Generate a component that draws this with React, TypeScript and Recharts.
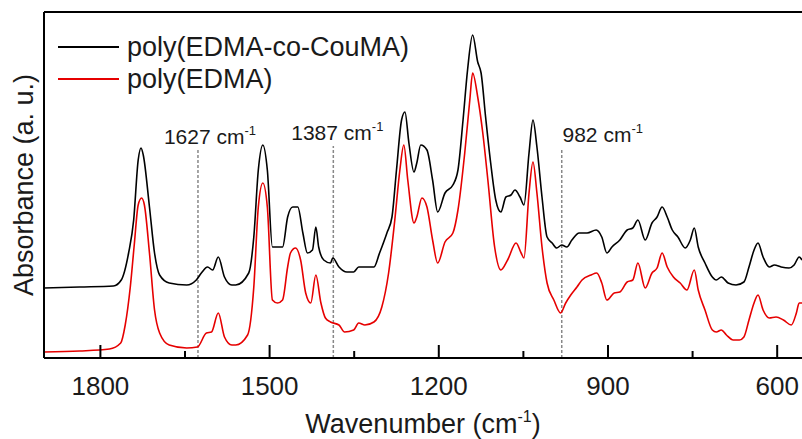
import { LineChart, Line, XAxis, YAxis, ReferenceLine, Legend } from 'recharts';

const FONT = '"Liberation Sans", Arial, sans-serif';
const TEXT = '#1a1a1a';

// wavenumber (cm-1) and absorbance (a.u., offset)
const wnBlack = [
  1900, 1837, 1777, 1763, 1750, 1741, 1733, 1728, 1724, 1713, 1704, 1695, 1678, 1647, 1630, 1621, 1610, 1601,
  1591, 1580, 1567, 1560, 1537, 1528, 1520, 1512, 1504, 1495, 1486, 1477, 1468, 1459, 1450, 1441, 1433, 1424,
  1418, 1413, 1404, 1392, 1388, 1377, 1363, 1351, 1342, 1331, 1315, 1305, 1292, 1283, 1275, 1266, 1260, 1253,
  1244, 1239, 1232, 1221, 1211, 1202, 1189, 1175, 1166, 1157, 1149, 1140, 1131, 1125, 1117, 1108, 1099, 1090,
  1081, 1072, 1065, 1056, 1049, 1040, 1033, 1026, 1017, 1008, 999, 991, 982, 973, 964, 951, 937, 921, 911, 902,
  893, 879, 866, 856, 847, 834, 822, 813, 804, 795, 786, 776, 763, 754, 747, 740, 728, 715, 708, 699, 687, 673,
  659, 650, 641, 634, 625, 614, 605, 593, 579, 570, 561, 556,
];
const absBlack = [
  0.7, 0.71, 0.72, 0.78, 1.05, 1.38, 1.98, 2.1, 2.03, 1.51, 1.05, 0.83, 0.75, 0.73, 0.78, 0.85, 0.91, 0.88,
  1.01, 0.81, 0.73, 0.73, 0.85, 1.21, 1.88, 2.13, 1.88, 1.11, 1.11, 1.11, 1.41, 1.51, 1.51, 1.25, 1.05, 1.08,
  1.31, 1.11, 0.98, 0.95, 1.0, 0.91, 0.86, 0.86, 0.91, 0.91, 0.91, 1.05, 1.25, 1.41, 1.88, 2.38, 2.46, 2.15,
  1.86, 1.95, 2.13, 2.08, 1.78, 1.46, 1.65, 1.73, 1.88, 2.38, 2.88, 3.23, 2.96, 2.85, 2.41, 1.95, 1.58, 1.46,
  1.61, 1.63, 1.68, 1.61, 1.53, 2.05, 2.38, 2.11, 1.61, 1.21, 1.15, 1.1, 1.13, 1.11, 1.18, 1.25, 1.25, 1.28,
  1.21, 1.05, 1.11, 1.18, 1.28, 1.3, 1.38, 1.18, 1.35, 1.41, 1.51, 1.41, 1.28, 1.21, 1.1, 1.18, 1.3, 1.11,
  0.95, 0.81, 0.78, 0.81, 0.75, 0.73, 0.76, 0.91, 1.08, 1.15, 1.01, 0.91, 0.93, 0.91, 0.9, 0.93, 1.01, 0.98,
];

const wnRed = [
  1900, 1837, 1784, 1764, 1756, 1747, 1740, 1733, 1727, 1722, 1713, 1704, 1695, 1678, 1647, 1628, 1612, 1603,
  1591, 1580, 1567, 1560, 1539, 1528, 1520, 1512, 1504, 1495, 1486, 1477, 1468, 1463, 1454, 1445, 1436, 1427,
  1418, 1409, 1401, 1392, 1377, 1367, 1351, 1342, 1331, 1315, 1301, 1289, 1278, 1269, 1262, 1255, 1244, 1239,
  1230, 1221, 1211, 1202, 1189, 1175, 1166, 1154, 1145, 1140, 1131, 1122, 1113, 1101, 1090, 1078, 1063, 1054,
  1049, 1040, 1033, 1026, 1017, 1008, 996, 984, 975, 966, 955, 946, 930, 920, 911, 902, 889, 879, 866, 856, 847,
  834, 822, 813, 804, 795, 784, 772, 760, 747, 740, 728, 715, 708, 699, 690, 678, 667, 659, 650, 641, 634, 625,
  614, 602, 589, 575, 566, 561, 556,
];
const absRed = [
  0.06, 0.07, 0.09, 0.15, 0.33, 0.71, 1.13, 1.53, 1.6, 1.53, 1.05, 0.48, 0.25, 0.13, 0.1, 0.11, 0.25, 0.26,
  0.45, 0.21, 0.13, 0.13, 0.23, 0.71, 1.51, 1.75, 1.51, 0.58, 0.55, 0.58, 0.91, 1.05, 1.1, 0.98, 0.65, 0.55,
  0.83, 0.55, 0.4, 0.36, 0.33, 0.26, 0.28, 0.35, 0.33, 0.36, 0.51, 0.85, 1.38, 1.88, 2.13, 1.78, 1.35, 1.41,
  1.6, 1.51, 1.18, 0.95, 1.16, 1.25, 1.48, 2.05, 2.58, 2.85, 2.61, 2.25, 1.78, 1.11, 0.88, 0.98, 1.15, 1.05,
  1.0, 1.65, 1.96, 1.65, 1.11, 0.75, 0.58, 0.45, 0.55, 0.63, 0.71, 0.78, 0.83, 0.85, 0.75, 0.58, 0.65, 0.66,
  0.76, 0.78, 0.95, 0.7, 0.85, 0.9, 1.05, 0.91, 0.81, 0.75, 0.68, 0.88, 0.68, 0.48, 0.28, 0.26, 0.28, 0.23,
  0.18, 0.18, 0.21, 0.38, 0.55, 0.63, 0.48, 0.4, 0.41, 0.38, 0.33, 0.45, 0.55, 0.55,
];

const seriesNames = ['poly(EDMA-co-CouMA)', 'poly(EDMA)'];

const markedPeaks = [1627, 1387, 982];
const markTops = [2.08, 2.12, 2.1];
const markShift = [12, 4, 41];

const xTicks = [1800, 1650, 1500, 1350, 1200, 1050, 900, 750, 600];
const majorTicks = [1800, 1500, 1200, 900, 600];

const blackData = wnBlack.map((wn, i) => ({ wn, a: absBlack[i] }));
const redData = wnRed.map((wn, i) => ({ wn, a: absRed[i] }));

const AxisTick = ({ x, y, payload }: any) => {
  const major = majorTicks.includes(payload.value);
  return (
    <g>
      <line x1={x} x2={x} y1={y} y2={y - (major ? 13 : 7)} stroke="#000" strokeWidth={2} />
      {major && (
        <text x={x} y={y + 37} textAnchor="middle" fontFamily={FONT} fontSize={26} fill={TEXT}>
          {payload.value}
        </text>
      )}
    </g>
  );
};

const XTitle = ({ viewBox }: any) => (
  <text x={viewBox.x + viewBox.width / 2} y={viewBox.y + 75} textAnchor="middle" fontFamily={FONT} fontSize={27} fill={TEXT}>
    Wavenumber (cm<tspan dy={-11} fontSize={16}>-1</tspan>
    <tspan dy={11}>)</tspan>
  </text>
);

const YTitle = ({ viewBox }: any) => (
  <text
    transform={`translate(${viewBox.x + 33}, ${viewBox.y + viewBox.height / 2}) rotate(-90)`}
    textAnchor="middle"
    fontFamily={FONT}
    fontSize={27}
    fill={TEXT}
  >
    Absorbance (a. u.)
  </text>
);

const PeakLabel = ({ viewBox, txt, shift }: any) => (
  <text x={viewBox.x + shift} y={viewBox.y - 6} textAnchor="middle" fontFamily={FONT} fontSize={21} fill={TEXT}>
    {txt} cm<tspan dy={-9} fontSize={13}>-1</tspan>
  </text>
);

const renderLegend = (props: any) => {
  const items = [...(props.payload || [])].sort(
    (a: any, b: any) => seriesNames.indexOf(a.value) - seriesNames.indexOf(b.value)
  );
  return (
    <div style={{ fontFamily: FONT, fontSize: 27, lineHeight: '32px', color: TEXT }}>
      {items.map((e: any) => (
        <div key={e.value} style={{ display: 'flex', alignItems: 'center', whiteSpace: 'nowrap' }}>
          <span style={{ display: 'inline-block', width: 61, borderTop: `2px solid ${e.color}`, marginRight: 8 }} />
          {e.value}
        </div>
      ))}
    </div>
  );
};

export default function App() {
  return (
    <div style={{ position: 'absolute', left: 0, top: 0, width: 802, height: 439, background: '#fff', overflow: 'hidden' }}>
      <LineChart width={802} height={439} margin={{ top: 12, right: 0, bottom: 0, left: 0 }}>
        <XAxis
          dataKey="wn"
          type="number"
          domain={[556, 1900]}
          reversed
          allowDataOverflow
          ticks={xTicks}
          interval={0}
          tick={<AxisTick />}
          tickLine={false}
          tickSize={0}
          tickMargin={0}
          axisLine={{ stroke: '#000', strokeWidth: 2 }}
          height={81}
          label={<XTitle />}
        />
        <YAxis
          type="number"
          domain={[0, 3.46]}
          allowDataOverflow
          tick={false}
          tickLine={false}
          axisLine={{ stroke: '#000', strokeWidth: 2 }}
          width={44}
          label={<YTitle />}
        />
        <ReferenceLine y={3.46} stroke="#000" strokeWidth={2} />
        {markedPeaks.map((p, i) => (
          <ReferenceLine
            key={p}
            segment={[{ x: p, y: 0 }, { x: p, y: markTops[i] }]}
            stroke="#888"
            strokeWidth={1.5}
            strokeDasharray="3 2"
            label={<PeakLabel txt={p} shift={markShift[i]} />}
          />
        ))}
        <Line
          data={blackData}
          dataKey="a"
          name={seriesNames[0]}
          type="monotone"
          stroke="#000"
          strokeWidth={1.6}
          dot={false}
          isAnimationActive={false}
        />
        <Line
          data={redData}
          dataKey="a"
          name={seriesNames[1]}
          type="monotone"
          stroke="#e60000"
          strokeWidth={1.6}
          dot={false}
          isAnimationActive={false}
        />
        <Legend
          layout="vertical"
          align="center"
          verticalAlign="middle"
          content={renderLegend}
          wrapperStyle={{ left: 58, top: 31, width: 'auto' }}
        />
      </LineChart>
    </div>
  );
}
